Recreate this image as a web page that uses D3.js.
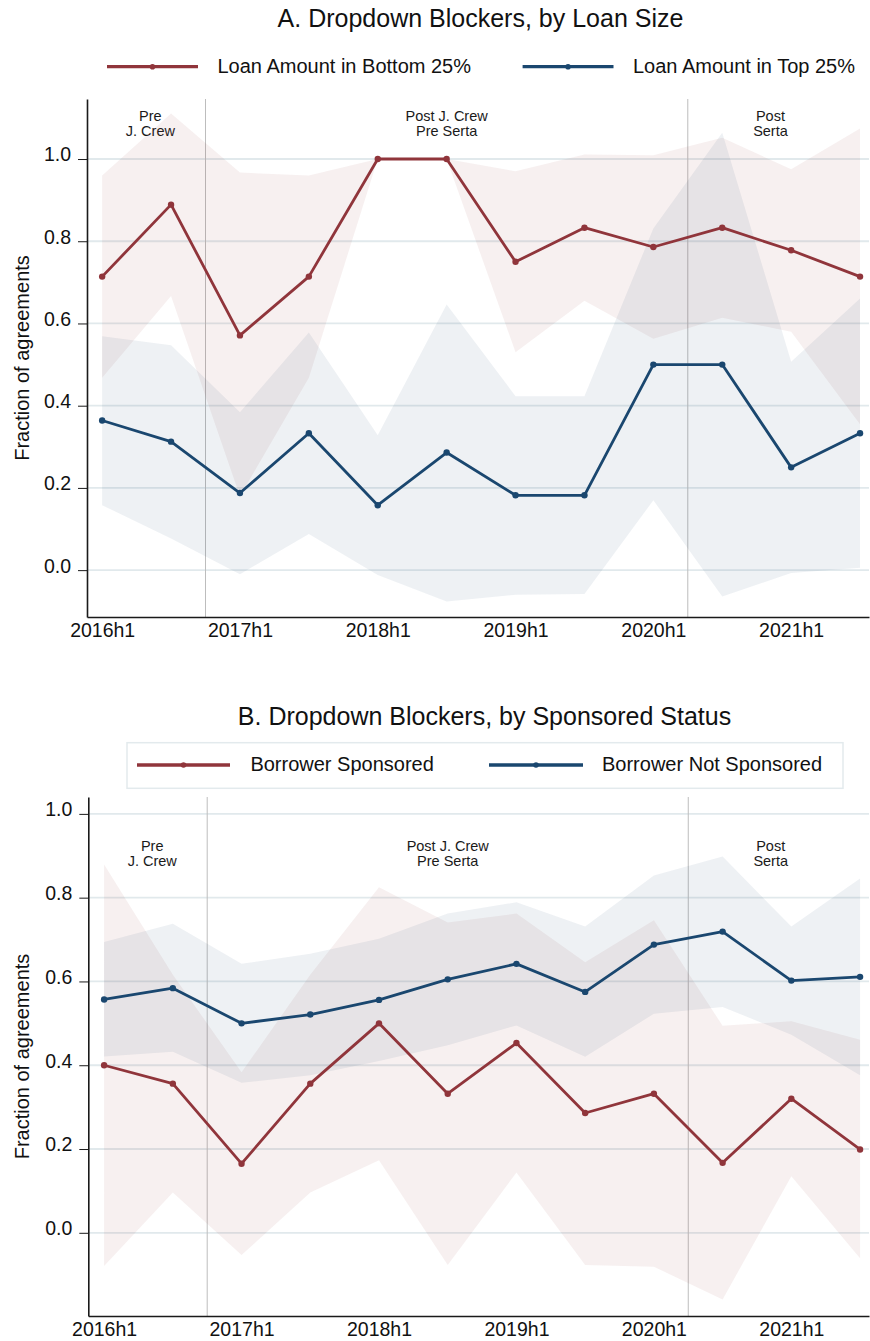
<!DOCTYPE html>
<html><head><meta charset="utf-8">
<script src="https://cdn.jsdelivr.net/npm/d3@7"></script>
<style>
body{margin:0;background:#fff}
svg{display:block;font-family:"Liberation Sans",Arial,Helvetica,sans-serif}
</style>
</head><body>
<svg id="chart" width="870" height="1341"></svg>
<script>
// ---------- data ----------
const periods = ["2016h1","2016h2","2017h1","2017h2","2018h1","2018h2","2019h1","2019h2","2020h1","2020h2","2021h1","2021h2"];
const xTickIdx = [0,2,4,6,8,10];
const yTicks = [0,0.2,0.4,0.6,0.8,1.0];
const eraLabels = [["Pre","J. Crew"],["Post J. Crew","Pre Serta"],["Post","Serta"]];
const eraLabelPos = [0.7, 5, 9.7];
const eraBreaks = [1.5, 8.5];

// Panel A
const loanBottom   = [0.714,0.889,0.571,0.714,1.000,1.000,0.750,0.833,0.786,0.833,0.778,0.714];
const loanBottomHi = [0.960,1.111,0.967,0.960,1.000,1.000,0.970,1.011,1.009,1.052,0.975,1.074];
const loanBottomLo = [0.468,0.667,0.180,0.468,1.000,1.000,0.530,0.655,0.563,0.614,0.580,0.355];
const loanTop      = [0.364,0.3125,0.1875,0.333,0.158,0.286,0.182,0.182,0.500,0.500,0.250,0.333];
const loanTopHi    = [0.569,0.547,0.384,0.578,0.328,0.646,0.423,0.423,0.831,1.064,0.507,0.661];
const loanTopLo    = [0.158,0.077,-0.010,0.088,-0.012,-0.076,-0.060,-0.058,0.170,-0.064,-0.007,0.006];

// Panel B
const sponsored      = [0.400,0.356,0.165,0.356,0.500,0.332,0.453,0.286,0.332,0.167,0.320,0.199];
const sponsoredHi    = [0.879,0.616,0.383,0.616,0.825,0.741,0.762,0.646,0.746,0.494,0.505,0.461];
const sponsoredLo    = [-0.079,0.096,-0.053,0.096,0.173,-0.077,0.144,-0.077,-0.081,-0.159,0.135,-0.061];
const notSponsored   = [0.557,0.584,0.500,0.521,0.556,0.605,0.642,0.575,0.688,0.719,0.602,0.611];
const notSponsoredHi = [0.694,0.738,0.642,0.666,0.702,0.762,0.789,0.731,0.853,0.898,0.731,0.846];
const notSponsoredLo = [0.421,0.432,0.358,0.376,0.410,0.448,0.495,0.420,0.523,0.539,0.473,0.376];

const RED = "rgb(144,53,59)";
const BLUE = "rgb(26,71,111)";

const svg = d3.select("#chart");

function panel(cfg){
  const g = svg.append("g");
  const x = d3.scaleLinear().domain(cfg.xDom).range([cfg.left, cfg.right]);
  const y = d3.scaleLinear().domain(cfg.yDom).range([cfg.bottom, cfg.top]);

  // title
  g.append("text").attr("x", cfg.titleX).attr("y", cfg.titleY)
    .attr("text-anchor","middle").attr("font-size", 25).attr("fill","#111").text(cfg.title);

  // legend
  if (cfg.legendBox) {
    g.append("rect").attr("x", cfg.legendBox[0]).attr("y", cfg.legendBox[1])
      .attr("width", cfg.legendBox[2]).attr("height", cfg.legendBox[3])
      .attr("fill","#fff").attr("stroke","#e3eaed").attr("stroke-width",1.5);
  }
  cfg.legend.forEach(l => {
    g.append("line").attr("x1", l.x1).attr("x2", l.x2).attr("y1", cfg.legendY).attr("y2", cfg.legendY)
      .attr("stroke", l.color).attr("stroke-width", 3.3);
    g.append("circle").attr("cx", (l.x1+l.x2)/2).attr("cy", cfg.legendY).attr("r", 2.8).attr("fill", l.color);
    g.append("text").attr("x", l.tx).attr("y", cfg.legendY + 6).attr("font-size", 20).attr("fill","#111").text(l.label);
  });

  // gridlines
  g.append("g").selectAll("line").data(yTicks).join("line")
    .attr("x1", cfg.left).attr("x2", cfg.right).attr("y1", d=>y(d)).attr("y2", d=>y(d))
    .attr("stroke","#e1e9ec").attr("stroke-width",1.8);

  // era breaks
  g.append("g").selectAll("line").data(eraBreaks).join("line")
    .attr("x1", d=>x(d)).attr("x2", d=>x(d)).attr("y1", cfg.top).attr("y2", cfg.bottom)
    .attr("stroke","#bdbdbd").attr("stroke-width",1);

  // era labels
  eraLabels.forEach((lines, i) => {
    lines.forEach((t, j) => {
      g.append("text").attr("x", x(eraLabelPos[i])).attr("y", cfg.eraY + j*15)
        .attr("text-anchor","middle").attr("font-size", 14.5).attr("fill","#1a1a1a").text(t);
    });
  });

  // CI bands
  cfg.series.forEach(s => {
    const area = d3.area().x((d,i)=>x(i)).y0((d,i)=>y(s.lo[i])).y1((d,i)=>y(s.hi[i]));
    g.append("path").datum(s.v).attr("d", area).attr("fill", s.color).attr("fill-opacity", 0.075);
  });

  // lines + markers
  cfg.series.forEach(s => {
    const line = d3.line().x((d,i)=>x(i)).y(d=>y(d));
    g.append("path").datum(s.v).attr("d", line).attr("fill","none")
      .attr("stroke", s.color).attr("stroke-width", 2.8).attr("stroke-linejoin","round");
    g.append("g").selectAll("circle").data(s.v).join("circle")
      .attr("cx",(d,i)=>x(i)).attr("cy", d=>y(d)).attr("r", 3.2).attr("fill", s.color);
  });

  // axes
  const yAxis = g.append("g").attr("transform", `translate(${cfg.left},0)`)
    .call(d3.axisLeft(y).tickValues(yTicks).tickFormat(d3.format(".1f")).tickSize(9).tickSizeOuter(0).tickPadding(7));
  yAxis.select(".domain").attr("stroke","#1a1a1a").attr("stroke-width",1.6);
  yAxis.selectAll(".tick line").attr("stroke","#1a1a1a").attr("stroke-width",1);
  yAxis.selectAll(".tick text").attr("font-size",19.5).attr("fill","#111").attr("dy","0.1em")
    .attr("font-family",'"Liberation Sans",Arial,sans-serif');

  const xAxis = g.append("g").attr("transform", `translate(0,${cfg.bottom})`)
    .call(d3.axisBottom(x).tickValues(xTickIdx).tickFormat(i=>periods[i]).tickSize(0).tickSizeOuter(0).tickPadding(6.3));
  xAxis.select(".domain").attr("stroke","#1a1a1a").attr("stroke-width",1.6);
  xAxis.selectAll(".tick text").attr("font-size",19.5).attr("fill","#111")
    .attr("font-family",'"Liberation Sans",Arial,sans-serif');

  // y title
  g.append("text").attr("transform", `translate(29,${(cfg.top+cfg.bottom)/2}) rotate(-90)`)
    .attr("text-anchor","middle").attr("font-size",20).attr("fill","#111").text("Fraction of agreements");
}

panel({
  title: "A. Dropdown Blockers, by Loan Size", titleX: 480.5, titleY: 26.7,
  legendY: 66.7,
  legend: [
    {x1:107, x2:198, tx:217.5, color:RED, label:"Loan Amount in Bottom 25%"},
    {x1:522.6, x2:613.5, tx:633, color:BLUE, label:"Loan Amount in Top 25%"}
  ],
  xDom:[-0.22, 11.13], left:87, right:869,
  yDom:[-0.114, 1.146], bottom:617, top:99,
  eraY: 120.7,
  series: [
    {v:loanBottom, hi:loanBottomHi, lo:loanBottomLo, color:RED},
    {v:loanTop, hi:loanTopHi, lo:loanTopLo, color:BLUE}
  ]
});

panel({
  title: "B. Dropdown Blockers, by Sponsored Status", titleX: 484.5, titleY: 724.5,
  legendY: 765,
  legendBox: [127, 742.7, 716, 45.6],
  legend: [
    {x1:137, x2:230, tx:250.4, color:RED, label:"Borrower Sponsored"},
    {x1:489, x2:583, tx:602, color:BLUE, label:"Borrower Not Sponsored"}
  ],
  xDom:[-0.23, 11.13], left:88.3, right:869,
  yDom:[-0.1986, 1.0403], bottom:1316, top:797,
  eraY: 850.7,
  series: [
    {v:sponsored, hi:sponsoredHi, lo:sponsoredLo, color:RED},
    {v:notSponsored, hi:notSponsoredHi, lo:notSponsoredLo, color:BLUE}
  ]
});
</script>
</body></html>
